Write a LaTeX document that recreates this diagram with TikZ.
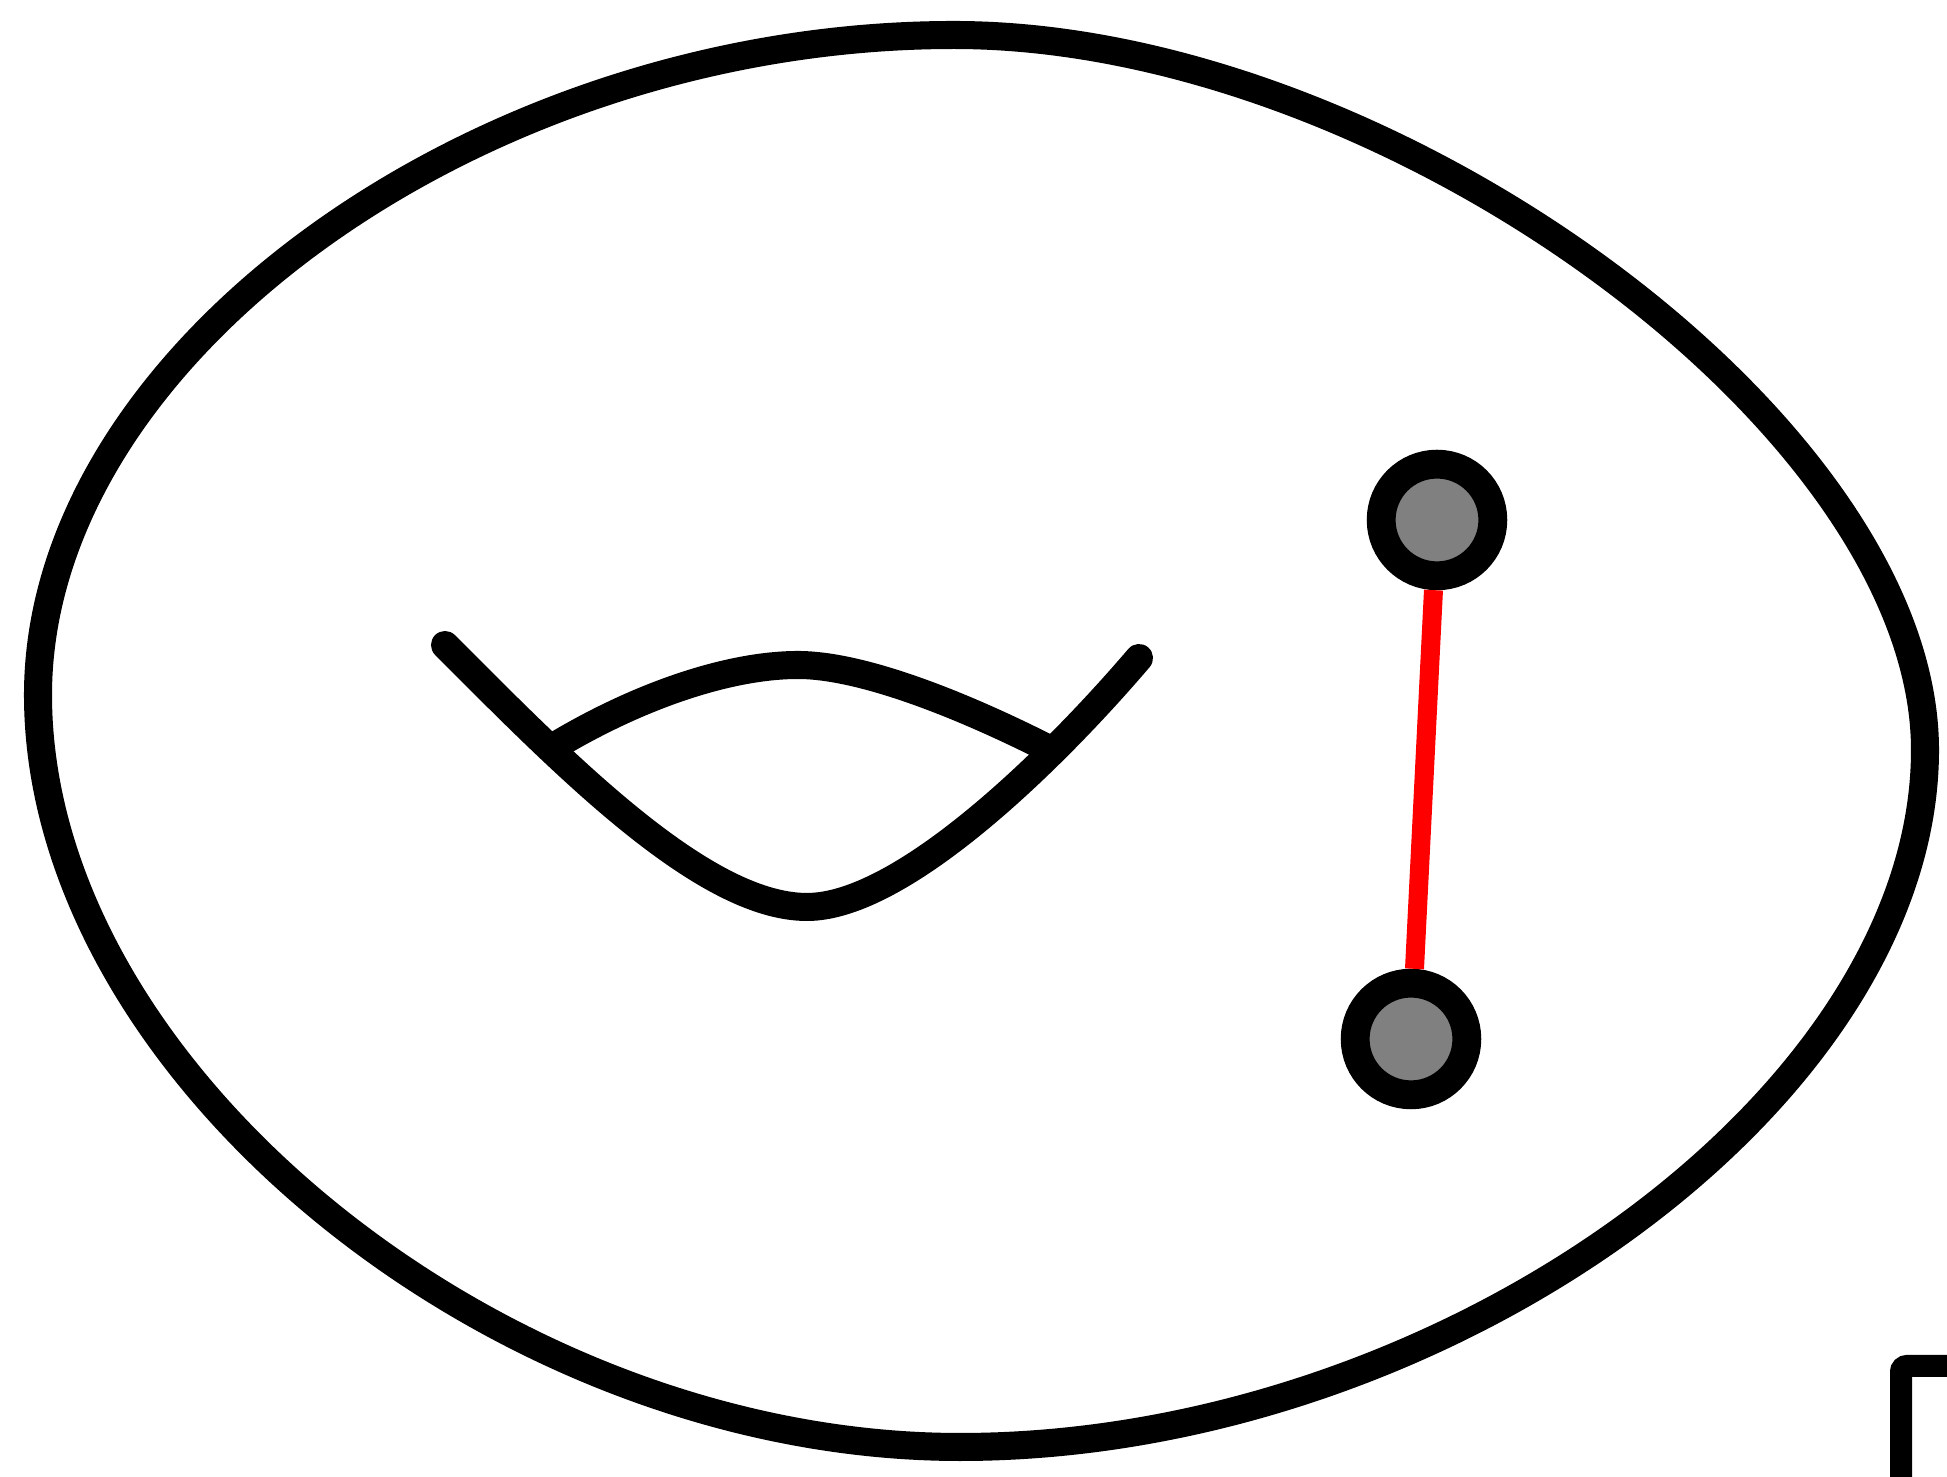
\documentclass[tikz,border=0pt]{standalone}
\begin{document}
\begin{tikzpicture}[x=0.01cm,y=-0.01cm,
  outline/.style={draw=black,line width=7.97pt,line join=round},
  fishline/.style={draw=black,line width=7.97pt,line cap=round},
  pin/.style={circle,draw=black,fill=gray,line width=8.2pt,minimum size=1.116cm,inner sep=0pt},
  link/.style={draw=red,line width=5.4pt},
  frame/.style={draw=black,line width=6.26pt,rounded corners=0.06cm}]
\useasboundingbox (0,0) rectangle (1947,1477);
\clip (0,0) rectangle (1947,1477);
% outer closed curve
\coordinate (et) at (954,35);
\coordinate (er) at (1925,750);
\coordinate (eb) at (960,1447);
\coordinate (el) at (38,695);
\draw[outline] (et) .. controls (1391,35) and (1925,428) .. (er)
  .. controls (1925,1098) and (1443,1447) .. (eb)
  .. controls (499,1447) and (38,1072) .. (el)
  .. controls (38,354) and (478,35) .. (et) -- cycle;
% fish
\coordinate (fa) at (445,645);
\coordinate (fm) at (807,907);
\coordinate (fb) at (1139,658);
\coordinate (aa) at (555,746);
\coordinate (at) at (798,665);
\coordinate (ab) at (1047,748);
\draw[outline] (aa) .. controls (640,695) and (730,665) .. (at) .. controls (862,665) and (962,705) .. (ab);
\draw[fishline] (fa) .. controls (560,760) and (702,907) .. (fm) .. controls (902,907) and (1052,760) .. (fb);
% pins and link
\node[pin] (top) at (1437,520) {};
\node[pin] (bot) at (1411,1039) {};
\draw[link] (top) -- (bot);
% partial frame at bottom right
\coordinate (fr1) at (1901,1500);
\coordinate (fr2) at (1901,1366);
\coordinate (fr3) at (1980,1366);
\draw[frame] (fr1) -- (fr2) -- (fr3);
\end{tikzpicture}
\end{document}
